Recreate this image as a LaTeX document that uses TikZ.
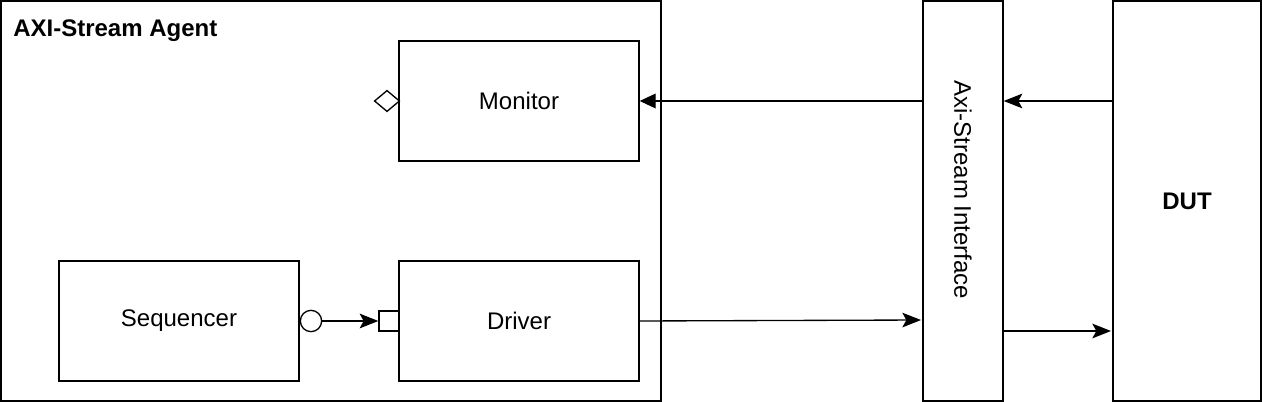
\documentclass[tikz,border=0pt]{standalone}
\usepackage{fontspec}
\setmainfont{Liberation Sans}
\usetikzlibrary{arrows.meta,shapes.geometric}
\begin{document}
\begin{tikzpicture}[x=0.75pt, y=-0.75pt,
    >={Stealth[length=14pt,width=11pt,inset=3pt]},
    font=\fontsize{18}{21}\selectfont,
    block/.style={draw, line width=1pt, minimum width=180pt, minimum height=90pt, inner sep=0pt},
    port/.style={draw, line width=1pt, fill=white, inner sep=0pt},
    link/.style={->, line width=1pt}]

  \useasboundingbox (0,0) rectangle (1262,402);

  % frames
  \node[draw, line width=1pt, minimum width=495pt, minimum height=300pt, inner sep=0pt] (agent) at (331,201) {};
  \node[anchor=west, inner sep=0pt, font=\fontsize{18}{21}\selectfont\bfseries] (title) at (13,31) {AXI-Stream Agent};
  \node[draw, line width=1pt, minimum width=60pt, minimum height=300pt, inner sep=0pt] (iface) at (963,201) {};
  \node[rotate=-90] (ifacelbl) at (963,190) {Axi-Stream Interface};
  \node[draw, line width=1pt, minimum width=111pt, minimum height=300pt, inner sep=0pt, font=\fontsize{18}{21}\selectfont\bfseries] (dut) at (1187,201) {DUT};

  % components
  \node[block] (mon) at (519,101) {Monitor};
  \node[block] (seq) at (179,321) {Sequencer};
  \node[block] (drv) at (519,321) {Driver};

  % ports
  \node[port, diamond, minimum width=19pt, minimum height=16pt] (monport) at (387,101) {};
  \node[port, circle, minimum size=16pt] (seqport) at (311,321) {};
  \node[port, rectangle, minimum size=15pt] (drvport) at (389,321) {};

  \coordinate (ifin)  at (923,101);
  \coordinate (dutin) at (1113,101);
  \coordinate (ifdrv) at (921,320);
  \coordinate (ifout) at (1003,331);
  \coordinate (dutdrv) at (1111,331);

  \draw[link] (seqport) -- (drvport);
  \draw[link, -{Stealth[length=12pt,width=11pt,inset=0pt]}] (ifin) -- (mon.east);
  \draw[link] (dutin) -- (iface.east |- dutin);
  \draw[link] (drv.east) -- (ifdrv);
  \draw[link] (ifout) -- (dutdrv);
\end{tikzpicture}
\end{document}
